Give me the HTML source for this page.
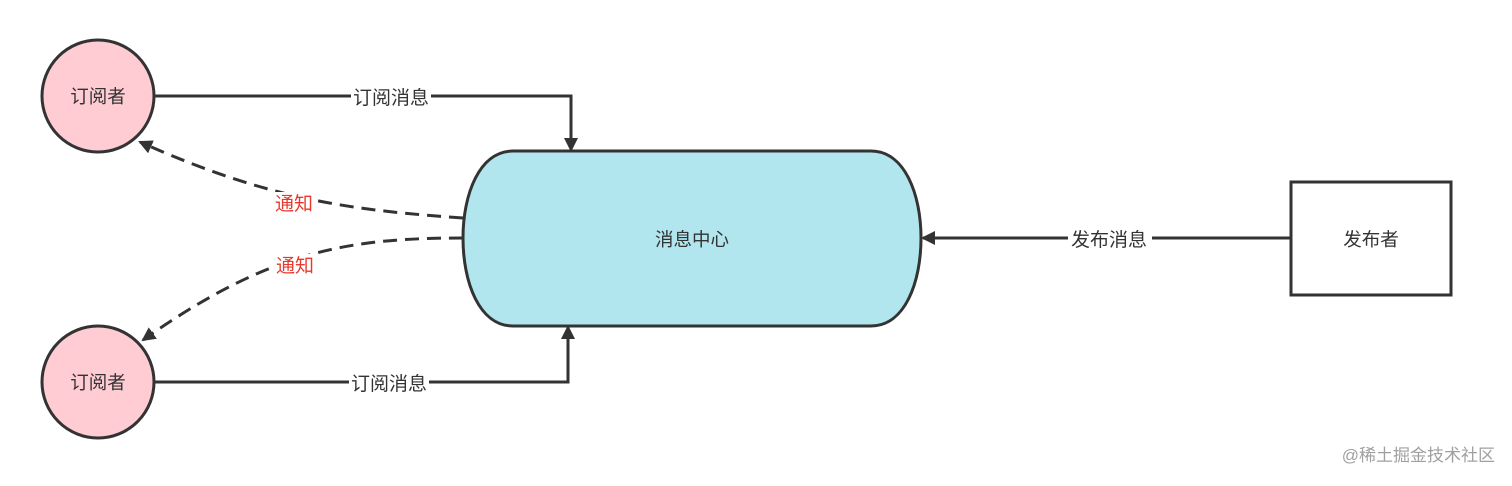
<!DOCTYPE html>
<html><head><meta charset="utf-8"><style>
html,body{margin:0;padding:0;background:#fff;}
svg text{font-family:"Liberation Sans","Noto Sans CJK SC",sans-serif;}
</style></head><body>
<svg width="1512" height="481" viewBox="0 0 1512 481" xmlns="http://www.w3.org/2000/svg">
<defs>
<marker id="b" markerWidth="14" markerHeight="14" refX="12" refY="7" orient="auto" markerUnits="userSpaceOnUse" viewBox="0 0 14 14">
<path d="M0,0 L14,7 L0,14 Z" fill="#333"/></marker>
</defs>
<rect width="1512" height="481" fill="#fff"/>
<path d="M513,151 L871,151 C905,151 921,195 921,238 C921,282 905,326 871,326 L513,326 C479,326 463,282 463,238 C463,195 479,151 513,151 Z" fill="#b1e6ef" stroke="#333" stroke-width="3"/>
<text x="692" y="246" font-size="18.5" text-anchor="middle" fill="#333">消息中心</text>
<circle cx="98" cy="96" r="56" fill="#ffccd4" stroke="#333" stroke-width="3"/>
<text x="98" y="103" font-size="18.5" text-anchor="middle" fill="#333">订阅者</text>
<circle cx="98" cy="382" r="56" fill="#ffccd4" stroke="#333" stroke-width="3"/>
<text x="98" y="389" font-size="18.5" text-anchor="middle" fill="#333">订阅者</text>
<rect x="1291" y="182" width="160" height="113" fill="#fff" stroke="#333" stroke-width="3"/>
<text x="1371" y="246" font-size="18.5" text-anchor="middle" fill="#333">发布者</text>
<path d="M155,96 L571,96 L571,150" fill="none" stroke="#333" stroke-width="3" marker-end="url(#b)"/>
<path d="M155,382 L568,382 L568,327" fill="none" stroke="#333" stroke-width="3" marker-end="url(#b)"/>
<path d="M1291,238 L923,238" fill="none" stroke="#333" stroke-width="3" marker-end="url(#b)"/>
<path d="M463,218 C350,210 270,200 140,142" fill="none" stroke="#333" stroke-width="3" stroke-dasharray="14,8" marker-end="url(#b)"/>
<path d="M463,238 C350,238 270,250 143,340" fill="none" stroke="#333" stroke-width="3" stroke-dasharray="14,8" marker-end="url(#b)"/>
<rect x="351" y="86" width="80" height="22" fill="#fff"/>
<text x="391" y="104" font-size="19" text-anchor="middle" fill="#333">订阅消息</text>
<rect x="349" y="372" width="80" height="22" fill="#fff"/>
<text x="389" y="390" font-size="19" text-anchor="middle" fill="#333">订阅消息</text>
<rect x="1068" y="228" width="84" height="22" fill="#fff"/>
<text x="1109" y="246" font-size="19" text-anchor="middle" fill="#333">发布消息</text>
<rect x="274" y="192" width="40" height="22" fill="#fff"/>
<text x="294" y="210" font-size="19" text-anchor="middle" fill="#e8392e">通知</text>
<rect x="275" y="254" width="40" height="22" fill="#fff"/>
<text x="295" y="272" font-size="19" text-anchor="middle" fill="#e8392e">通知</text>
<text x="1495" y="461" font-size="17" text-anchor="end" fill="#a0a0a0">@稀土掘金技术社区</text>
</svg>
</body></html>
